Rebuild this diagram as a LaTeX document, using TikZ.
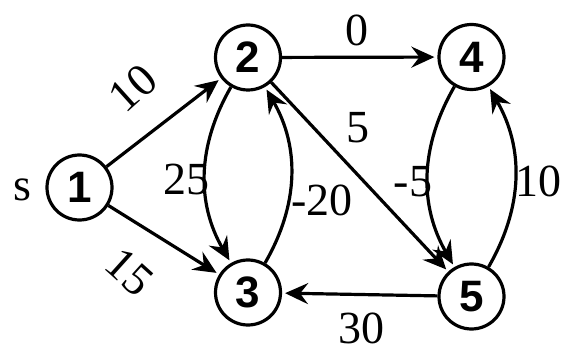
\documentclass[tikz,border=0pt]{standalone}
\usepackage{fontspec}
\setmainfont{Liberation Serif}
\newfontfamily\nodefont{Liberation Sans}
\usetikzlibrary{arrows.meta}
\tikzset{
  vert/.style={circle, draw, line width=3.2pt, minimum size=65pt, inner sep=0pt,
    font=\nodefont\bfseries\fontsize{44}{48}\selectfont},
  wlabel/.style={inner sep=0pt, font=\rmfamily\fontsize{46}{50}\selectfont},
  arc/.style={line width=3.2pt, -{Stealth[length=23pt,width=21pt,inset=8pt]}, shorten >=3pt},
}
\begin{document}
\begin{tikzpicture}[x=1pt,y=-1pt]
\useasboundingbox (0,0) rectangle (563,350);
\node[vert] (n1) at (79.5,187.5) {1};
\node[vert] (n2) at (248,57.5) {2};
\node[vert] (n3) at (248,292.5) {3};
\node[vert] (n4) at (471.5,57) {4};
\node[vert] (n5) at (471.5,296.5) {5};

\draw[arc] (n1) -- (n2);
\draw[arc] (n1) -- (n3);
\draw[arc] (n2) -- (n4);
\draw[arc] (n2) -- (n5);
\draw[arc] (n5) -- (n3);
\draw[arc] (n2) to[bend right=30] (n3);
\draw[arc] (n3) to[bend right=30] (n2);
\draw[arc] (n4) to[bend right=30] (n5);
\draw[arc] (n5) to[bend right=30] (n4);

\node[wlabel] (ls) at (22,190) {s};
\node[wlabel, rotate=42] (l12) at (133,88) {10};
\node[wlabel, rotate=-42] (l13) at (130,272) {15};
\node[wlabel] (l24) at (357,30) {0};
\node[wlabel] (l25) at (358,128) {5};
\node[wlabel] (l23) at (186,179) {25};
\node[wlabel] (l32) at (322,200) {-20};
\node[wlabel] (l45) at (413,182) {-5};
\node[wlabel] (l54) at (538,181) {10};
\node[wlabel] (l53) at (361,328) {30};
\end{tikzpicture}
\end{document}
